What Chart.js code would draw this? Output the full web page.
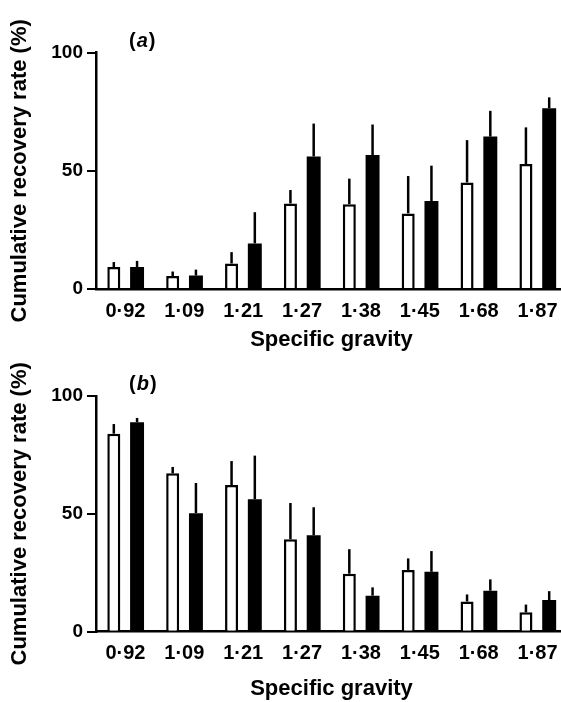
<!DOCTYPE html>
<html><head><meta charset="utf-8">
<script src="https://cdn.jsdelivr.net/npm/chart.js@4.4.0/dist/chart.umd.min.js"></script>
<style>
html,body{margin:0;padding:0;background:#fff;overflow:hidden;width:561px;height:702px;}
#wrap{position:relative;width:561px;height:702px;overflow:hidden;background:#fff;}
canvas{position:absolute;left:0;display:block;}
#ca{top:0px}
#cb{top:353px}
</style></head><body>
<div id="wrap"><canvas id="ca" width="580" height="353"></canvas><canvas id="cb" width="580" height="349"></canvas></div>
<script>
// ---- data ----
const categories = ['0·92','1·09','1·21','1·27','1·38','1·45','1·68','1·87'];
const yTicks = [0, 50, 100];
const xTitle = 'Specific gravity';
const yTitle = 'Cumulative recovery rate (%)';
const panelLetters = ['a', 'b'];

// panel (a)
const aOpenMean   = [9.3, 5.5, 10.8, 36.2, 35.9, 32.0, 45.1, 52.9];
const aOpenSD     = [2.1, 1.9, 4.8, 5.7, 10.8, 15.8, 17.9, 15.5];
const aFilledMean = [9.3, 5.7, 19.3, 56.1, 56.7, 37.2, 64.5, 76.5];
const aFilledSD   = [2.6, 2.5, 13.2, 13.9, 12.9, 15.0, 10.9, 4.6];

// panel (b)
const bOpenMean   = [84.0, 67.2, 62.2, 39.2, 24.6, 26.2, 12.8, 8.2];
const bOpenSD     = [4.1, 2.7, 10.2, 15.4, 10.4, 4.9, 3.0, 3.3];
const bFilledMean = [88.9, 50.3, 56.2, 40.9, 15.3, 25.4, 17.4, 13.4];
const bFilledSD   = [1.8, 12.8, 18.5, 11.9, 3.5, 8.8, 4.8, 3.8];

const FONT = "'Liberation Sans', Arial, Helvetica, sans-serif";

const errorBarPlugin = {
  id: 'errorBars',
  afterDatasetsDraw(chart) {
    const ctx = chart.ctx, ys = chart.scales.y;
    chart.data.datasets.forEach((ds, i) => {
      const meta = chart.getDatasetMeta(i);
      meta.data.forEach((bar, j) => {
        const top = ys.getPixelForValue(ds.data[j] + ds.sd[j]);
        ctx.save();
        ctx.strokeStyle = '#000';
        ctx.lineWidth = 2.5;
        ctx.beginPath();
        ctx.moveTo(bar.x, bar.y);
        ctx.lineTo(bar.x, top);
        ctx.stroke();
        ctx.restore();
      });
    });
  }
};

const panelLetterPlugin = {
  id: 'panelLetter',
  afterDraw(chart, args, opts) {
    const ctx = chart.ctx, ca = chart.chartArea;
    const x = ca.left + 33, y = ca.top - opts.dy;
    ctx.save();
    ctx.fillStyle = '#000';
    ctx.textBaseline = 'middle';
    ctx.textAlign = 'left';
    ctx.font = 'bold 20px ' + FONT;
    let cx = x;
    ctx.fillText('(', cx, y); cx += ctx.measureText('(').width + 1;
    ctx.font = 'italic bold 20px ' + FONT;
    ctx.fillText(opts.letter, cx, y); cx += ctx.measureText(opts.letter).width + 1;
    ctx.font = 'bold 20px ' + FONT;
    ctx.fillText(')', cx, y);
    ctx.restore();
  }
};

function makeChart(id, openMean, openSD, filledMean, filledSD, letter, padTop, xHeight, letterDy) {
  return new Chart(document.getElementById(id), {
    type: 'bar',
    data: {
      labels: categories,
      datasets: [
        { label: 'open', data: openMean, sd: openSD, backgroundColor: '#fff', borderColor: '#000',
          borderWidth: 2.5, barPercentage: 0.56, categoryPercentage: 0.79 },
        { label: 'filled', data: filledMean, sd: filledSD, backgroundColor: '#000', borderColor: '#000',
          borderWidth: 0, barPercentage: 0.6, categoryPercentage: 0.79 }
      ]
    },
    options: {
      responsive: false,
      animation: false,
      layout: { padding: { top: padTop, right: 13, left: 0, bottom: 0 } },
      plugins: {
        legend: { display: false },
        tooltip: { enabled: false },
        panelLetter: { letter: letter, dy: letterDy }
      },
      scales: {
        x: {
          type: 'category',
          offset: true,
          grid: { display: false, drawTicks: false },
          border: { display: true, color: '#000', width: 2.5 },
          ticks: { color: '#000', font: { family: FONT, size: 20, weight: 'bold' }, padding: 10, maxRotation: 0, autoSkip: false },
          title: { display: true, text: xTitle, color: '#000', font: { family: FONT, size: 22, weight: 'bold' }, padding: { top: 0, bottom: 0 } },
          afterFit(s) { s.height = xHeight; }
        },
        y: {
          min: 0, max: 100,
          afterBuildTicks(s) { s.ticks = yTicks.map(v => ({ value: v })); },
          ticks: { color: '#000', font: { family: FONT, size: 19, weight: 'bold' }, padding: 4 },
          grid: { drawOnChartArea: false, drawTicks: true, tickLength: 9, color: '#000', lineWidth: 2 },
          border: { color: '#000', width: 2.5 },
          title: { display: true, text: yTitle, color: '#000', font: { family: FONT, size: 22, weight: 'bold' }, padding: { top: 7, bottom: 0 } },
          afterFit(s) { s.width = 96; }
        }
      }
    },
    plugins: [errorBarPlugin, panelLetterPlugin]
  });
}

makeChart('ca', aOpenMean, aOpenSD, aFilledMean, aFilledSD, panelLetters[0], 52.7, 64, 11);
makeChart('cb', bOpenMean, bOpenSD, bFilledMean, bFilledSD, panelLetters[1], 43, 70.3, 12);
</script>
</body></html>
